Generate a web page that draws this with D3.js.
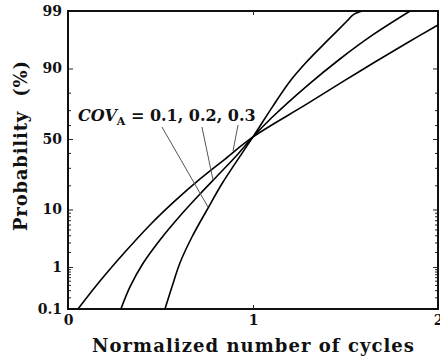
<!DOCTYPE html>
<html>
<head>
<meta charset="utf-8">
<script src="https://cdn.jsdelivr.net/npm/d3@7"></script>
<style>
  body { margin: 0; background: #fff; }
  svg { display: block; }
  .tick text { font-family: "DejaVu Serif", serif; font-weight: bold; font-size: 14px; fill: #111; }
  .tick line { stroke: #222; stroke-width: 1; }
</style>
</head>
<body>
<div id="chart"></div>
<script>
// curves: normalized cycles vs probability (%)
const cyclesCov01 = [0.524, 0.562, 0.605, 0.670, 0.751, 0.838, 1.0, 1.105, 1.197, 1.289, 1.378, 1.454, 1.508, 1.541, 1.589];
const probCov01   = [0.1, 0.36, 1.21, 3.74, 9.84, 21.7, 51.5, 72.0, 85.0, 91.9, 95.6, 97.5, 98.4, 98.8, 99.0];

const cyclesCov02 = [0.286, 0.335, 0.405, 0.497, 0.605, 0.714, 0.822, 0.914, 1.0, 1.105, 1.292, 1.470, 1.649, 1.849];
const probCov02   = [0.1, 0.36, 1.18, 3.32, 8.08, 15.9, 26.8, 38.6, 51.5, 65.5, 83.3, 92.7, 97.1, 99.0];

const cyclesCov03 = [0.054, 0.173, 0.308, 0.443, 0.578, 0.714, 0.849, 1.0, 1.292, 1.562, 1.832, 2.0];
const probCov03   = [0.1, 0.49, 1.99, 5.9, 13.0, 23.4, 35.8, 51.5, 73.8, 88.5, 95.95, 98.09];

const yMajor = [0.1, 1, 10, 50, 90, 99];
const yMinor = [0.2, 0.3, 0.4, 0.5, 0.6, 0.7, 0.8, 0.9, 2, 3, 4, 5, 6, 7, 8, 9, 20, 30, 40, 60, 70, 80];
const xTicks = [0, 1, 2];

// leader lines from the label to each curve
const leaders = [
  [[0.508, 58.6], [0.757, 10.8]],
  [[0.724, 58.6], [0.784, 22.8]],
  [[0.919, 60], [0.892, 41.4]]
];

// inverse normal cdf (Acklam)
function probit(p) {
  const a = [-3.969683028665376e+01, 2.209460984245205e+02, -2.759285104469687e+02, 1.383577518672690e+02, -3.066479806614716e+01, 2.506628277459239e+00];
  const b = [-5.447609879822406e+01, 1.615858368580409e+02, -1.556989798598866e+02, 6.680131188771972e+01, -1.328068155288572e+01];
  const c = [-7.784894002430293e-03, -3.223964580411365e-01, -2.400758277161838e+00, -2.549732539343734e+00, 4.374664141464968e+00, 2.938163982698783e+00];
  const d = [7.784695709041462e-03, 3.224671290700398e-01, 2.445134137142996e+00, 3.754408661907416e+00];
  const pl = 0.02425;
  let q, r;
  if (p < pl) {
    q = Math.sqrt(-2 * Math.log(p));
    return (((((c[0]*q+c[1])*q+c[2])*q+c[3])*q+c[4])*q+c[5]) / ((((d[0]*q+d[1])*q+d[2])*q+d[3])*q+1);
  }
  if (p <= 1 - pl) {
    q = p - 0.5; r = q * q;
    return (((((a[0]*r+a[1])*r+a[2])*r+a[3])*r+a[4])*r+a[5])*q / (((((b[0]*r+b[1])*r+b[2])*r+b[3])*r+b[4])*r+1);
  }
  q = Math.sqrt(-2 * Math.log(1 - p));
  return -(((((c[0]*q+c[1])*q+c[2])*q+c[3])*q+c[4])*q+c[5]) / ((((d[0]*q+d[1])*q+d[2])*q+d[3])*q+1);
}
const z = p => probit(p / 100);

let width = 440, height = 361;
let margin = { top: 11, bottom: 52, left: 68, right: 2 };
let innerW = width - margin.left - margin.right;
let innerH = height - margin.top - margin.bottom;

let svg = d3.select('#chart')
  .append('svg')
    .attr('width', width)
    .attr('height', height)
  .append('g')
    .attr('transform', 'translate(' + margin.left + ',' + margin.top + ')');

let xScale = d3.scaleLinear().domain([0, 2]).range([0, innerW]);
let yScale = d3.scaleLinear().domain([z(0.1), z(99)]).range([innerH, 0]);

svg.append('defs').append('clipPath').attr('id', 'plot-clip')
  .append('rect').attr('width', innerW).attr('height', innerH);

// y axes, ticks pointing inward
let labelOf = {};
yMajor.forEach(p => { labelOf[z(p).toFixed(6)] = String(p); });

svg.append('g')
  .attr('class', 'y axis')
  .call(d3.axisLeft(yScale).tickValues(yMajor.map(z)).tickSize(-5).tickPadding(6)
    .tickFormat(v => labelOf[v.toFixed(6)]));
svg.append('g')
  .attr('class', 'y axis minor')
  .call(d3.axisLeft(yScale).tickValues(yMinor.map(z)).tickSize(-3).tickFormat(''));
svg.append('g')
  .attr('class', 'y axis right')
  .attr('transform', 'translate(' + innerW + ',0)')
  .call(d3.axisRight(yScale).tickValues(yMajor.map(z)).tickSize(-5).tickFormat(''));
svg.append('g')
  .attr('class', 'y axis right minor')
  .attr('transform', 'translate(' + innerW + ',0)')
  .call(d3.axisRight(yScale).tickValues(yMinor.map(z)).tickSize(-3).tickFormat(''));

// x axes
svg.append('g')
  .attr('class', 'x axis')
  .attr('transform', 'translate(0,' + innerH + ')')
  .call(d3.axisBottom(xScale).tickValues(xTicks).tickSize(-4).tickPadding(6).tickFormat(d3.format('d')));
svg.append('g')
  .attr('class', 'x axis top')
  .call(d3.axisTop(xScale).tickValues([1]).tickSize(-4).tickFormat(''));

svg.selectAll('.domain').remove();

// frame
svg.append('rect')
  .attr('width', innerW)
  .attr('height', innerH)
  .attr('fill', 'none')
  .attr('stroke', '#111')
  .attr('stroke-width', 2);

// curves
let line = d3.line()
  .x(d => xScale(d[0]))
  .y(d => yScale(z(d[1])))
  .curve(d3.curveCatmullRom.alpha(0.5));

let series = [
  d3.zip(cyclesCov01, probCov01),
  d3.zip(cyclesCov02, probCov02),
  d3.zip(cyclesCov03, probCov03)
];

svg.append('g')
  .attr('clip-path', 'url(#plot-clip)')
  .selectAll('path')
  .data(series)
  .enter()
  .append('path')
    .attr('d', line)
    .attr('fill', 'none')
    .attr('stroke', '#000')
    .attr('stroke-width', 1.6);

// leader lines
svg.selectAll('.leader')
  .data(leaders)
  .enter()
  .append('line')
    .attr('class', 'leader')
    .attr('x1', d => xScale(d[0][0]))
    .attr('y1', d => yScale(z(d[0][1])))
    .attr('x2', d => xScale(d[1][0]))
    .attr('y2', d => yScale(z(d[1][1])))
    .attr('stroke', '#555')
    .attr('stroke-width', 1);

// COV label
let label = svg.append('text')
  .attr('x', xScale(0.054))
  .attr('y', yScale(z(62.7)))
  .style('font-family', '"DejaVu Serif", serif')
  .style('font-weight', 'bold')
  .style('font-size', '16px')
  .attr('fill', '#111');
label.append('tspan').style('font-style', 'italic').text('COV');
label.append('tspan').attr('dy', 4).style('font-size', '11px').text('A');
label.append('tspan').attr('dy', -4).text(' = 0.1, 0.2, 0.3');

// axis titles
svg.append('text')
  .attr('x', xScale(1))
  .attr('y', innerH + 43)
  .attr('text-anchor', 'middle')
  .attr('textLength', 322)
  .style('font-family', '"DejaVu Serif", serif')
  .style('font-weight', 'bold')
  .style('font-size', '18px')
  .attr('fill', '#111')
  .text('Normalized number of cycles');

svg.append('text')
  .attr('transform', 'translate(' + (-41) + ',' + (innerH / 2 - 14) + ') rotate(-90)')
  .attr('text-anchor', 'middle')
  .attr('textLength', 170)
  .style('font-family', '"DejaVu Serif", serif')
  .style('font-weight', 'bold')
  .style('font-size', '18px')
  .attr('fill', '#111')
  .text('Probability\u00a0\u00a0(%)');
</script>
</body>
</html>
